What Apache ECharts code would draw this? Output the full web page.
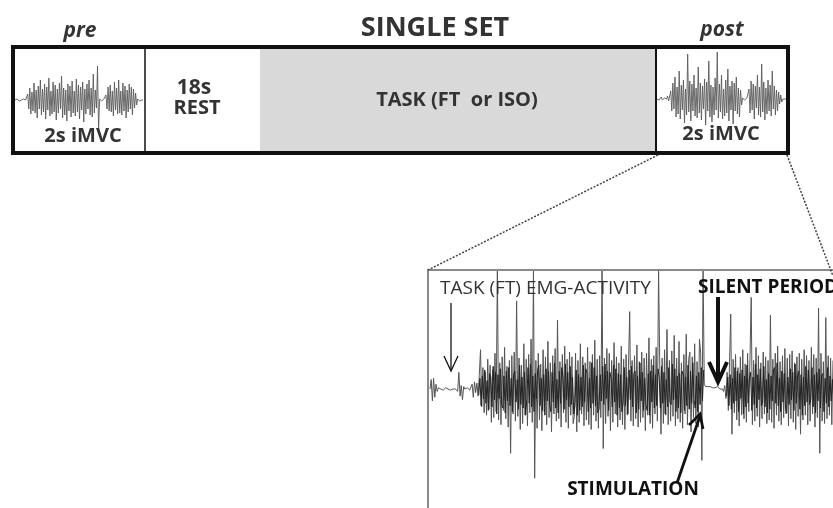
<!DOCTYPE html>
<html><head><meta charset="utf-8">
<script src="https://cdn.jsdelivr.net/npm/echarts@6/dist/echarts.min.js"></script>
<style>html,body{margin:0;padding:0;background:#fff}#c{width:833px;height:508px}</style>
</head><body><div id="c"></div>
<script>
// ---- data (hand-read values of the EMG traces) ----
var preEmg = [0,0,1,0,-1,0,0,0,1,-1,0,0,
 6,-9,12,-14,8,-11,17,-13,10,-18,14,-9,20,-15,11,-12,16,-19,13,-10,22,-16,9,-14,18,-12,15,-20,11,-13,17,-9,24,-18,12,-15,10,-21,16,-11,14,-17,19,-13,9,-16,21,-12,15,-19,13,-10,18,-22,11,-14,16,-9,20,-15,12,-17,26,-13,10,-8,
 34,-30,
 1,0,-1,0,1,0,
 5,-9,13,-11,15,-12,9,-16,18,-10,12,-14,20,-13,9,-15,17,-11,14,-18,10,-12,16,-9,13,-15,11,-8,7,-5,
 1,0,-1,0,0,0];
var postEmg = [0,1,-1,0,2,-1,0,1,0,0,3,-2,0,
 8,-12,16,-10,22,-18,12,-15,28,-20,14,-11,19,-24,10,-16,45,-13,18,-22,15,-12,24,-17,11,-19,32,-14,16,-21,13,-10,20,-26,17,-12,38,-18,14,-23,12,-16,21,-11,47,-19,15,-13,24,-20,10,-17,19,-14,30,-22,13,-11,18,-25,16,-12,22,-15,11,-18,9,-6,
 1,0,-1,0,1,0,
 10,-14,18,-11,15,-20,13,-9,24,-16,12,-18,35,-13,17,-21,11,-15,19,-12,14,-17,28,-10,13,-16,9,-12,7,-5,4,-3,
 0,1,0,0];
var taskEmg = [
 0,8,-10,9,-7,4,-2,1,0,0,
 0,-1,0,1,0,0,0,-1,0,0,
 1,0,0,-2,14,-6,3,-9,2,0,
 0,1,0,-1,0,4,-7,6,-3,5,
 -6,12,33,-15,18,-20,14,-22,25,-17,
 20,-28,16,-24,30,-19,100,-26,22,-30,
 27,-18,35,-25,19,-32,24,-54,28,-21,
 31,-27,74,-23,26,-34,20,-29,38,-22,
 25,-31,29,-20,42,-28,100,-75,24,-33,
 30,-26,21,-35,33,-19,27,-30,40,-24,
 22,-36,28,-21,34,-27,58,-25,23,-32,
 29,-20,36,-28,25,-33,31,-22,27,-29,
 -23,30,-36,24,-28,38,-21,27,-31,22,
 -26,35,-30,23,-34,29,-22,41,-27,25,
 -33,28,-24,100,-50,26,-29,34,-23,30,
 -35,24,-28,39,-21,27,-32,22,-26,36,
 -30,25,-34,29,-22,20,65,-27,24,-31,
 28,-25,37,-32,23,-28,31,-24,26,-35,
 30,-22,43,-29,25,-33,28,-21,35,-27,
 100,20,-38,26,-29,33,-22,50,-30,24,
 -27,32,-23,45,-31,26,-25,40,-28,22,
 -33,29,-21,46,-30,25,31,-36,27,-24,
 38,-29,23,-32,42,30,-60,100,
 4,2,1,2,1,2,1,1,2,1,1,2,1,0,1,0,-2,3,
 -8,14,-18,22,
 63,-38,25,-20,29,-26,18,-31,27,-22,
 33,-25,21,-28,30,-19,26,77,-30,24,
 -27,35,-23,28,-32,22,-25,31,-21,27,
 -29,24,-26,62,-28,25,-33,30,-22,36,
 -27,23,-30,28,-24,34,-21,26,-31,29,
 -25,32,-28,22,-34,27,-23,30,-38,25,
 -26,33,-22,28,-30,24,-27,35,-21,29,
 -32,26,-24,68,-54,30,-27,23,-29,60,
 -25,28,-22,26,-30,24];
// dense dark core of the task EMG (first burst starts at sample 40.5, second at 246.5)
var coreStart = [40.5, 246.5];
var taskCore1 = [
 -5,9,-14,11,-8,16,-12,7,-18,13,
 10,-15,19,-9,14,-21,12,-8,17,-13,
 -16,11,-20,15,-10,18,-14,9,-19,12,
 15,-11,8,-17,20,-13,10,-16,14,-22,
 -9,18,-12,21,-15,11,-19,13,-8,16,
 20,-14,9,-18,12,-22,17,-10,15,-13,
 -19,14,-11,22,-16,8,-20,15,-12,18,
 11,-17,21,-9,14,-15,19,-13,10,-21,
 -14,16,-22,12,-18,10,-15,20,-11,17,
 13,-19,9,-16,22,-12,18,-14,11,-20,
 -17,12,-10,19,-13,21,-8,15,-18,14,
 9,-15,20,-11,17,-22,13,-16,12,-19,
 -12,18,-14,10,-21,16,-9,19,-15,13,
 15,-20,11,-17,22,-10,14,-18,9,-13,
 -18,13,-22,15,-11,20,-16,12,-14,17,
 10,-16,19,-12,14,-21,8,-15,18,-11,
 -13,21,-9,17,-19,11,-16,13,-20,15,
 12,-18,10,-14,20,-17,15,-12,22,-9,
 -16,11,-19,14,-13,18,-10,16];
var taskCore2 = [
 -6,10,-14,12,-17,9,-12,18,-10,15,
 -19,13,-8,16,-21,11,-15,20,-12,9,
 14,-18,10,-13,21,-16,12,-9,17,-14,
 -11,19,-15,8,-20,13,-17,11,-10,16,
 18,-12,22,-14,9,-19,15,-11,13,-16,
 -20,10,-13,17,-9,14,-18,21,-12,11,
 15,-17,12,-22,10,-14,19,-11,16,-13,
 -9,18,-15,12,-20,14,-10,17,-16,11,
 13,-19,9,-12,18,-15,11,-10,8,-6];
var titleText = 'SINGLE SET';
var phaseLabels = ['pre', 'post'];
var boxLabels = ['2s iMVC', '18s', 'REST', 'TASK (FT  or ISO)'];
var zoomLabels = ['TASK (FT) EMG-ACTIVITY', 'SILENT PERIOD', 'STIMULATION'];

function pairs(a, start){ start = start || 0; return a.map(function(v,i){return [start+i,v];}); }

var FONT = 'Open Sans';
var chart = echarts.init(document.getElementById('c'), null, {renderer:'canvas'});
function txt(x,y,s,size,weight,style,extra){
  var o = {type:'text', x:x, y:y, z:100, style:{text:s, fill:'#333', font:(style||'normal')+' '+(weight||'bold')+' '+size+'px "'+FONT+'"', align:'center', verticalAlign:'middle'}};
  if(extra) for(var k in extra) o.style[k]=extra[k];
  return o;
}
function line(pts, w, color, dash){
  return {type:'polyline', z:50, shape:{points:pts}, style:{stroke:color||'#111', lineWidth:w, fill:null, lineDash:dash||null, lineCap:'butt', lineJoin:'miter'}};
}

var graphics = [
  {type:'rect', z:-10, shape:{x:260,y:48,width:395,height:103}, style:{fill:'#d9d9d9'}},
  {type:'rect', z:40, shape:{x:13,y:47,width:775,height:106}, style:{fill:null, stroke:'#111', lineWidth:4}},
  line([[145,48],[145,152]], 1.5),
  line([[656,48],[656,152]], 2),
  line([[658,155],[428,270]], 1.5, '#444', [2,1.5]),
  line([[787,155],[833,276]], 1.5, '#444', [2,1.5]),
  {type:'rect', z:40, shape:{x:428,y:270,width:420,height:260}, style:{fill:null, stroke:'#8a8a8a', lineWidth:2}},
  line([[451,303],[451,371]], 1.3),
  line([[444,356],[451,371],[458,356]], 1.3),
  line([[718,297],[718,380]], 4),
  line([[709,362],[718,382],[727,362]], 4),
  line([[677,483],[700,416]], 2.8),
  line([[689,425],[700,414],[703,429]], 2.8),
  txt(435, 28, titleText, 27),
  txt(80, 31, phaseLabels[0], 21, 'bold', 'italic'),
  txt(722, 30, phaseLabels[1], 21, 'bold', 'italic'),
  txt(83, 136, boxLabels[0], 20),
  txt(721, 134, boxLabels[0], 20),
  txt(194, 88, boxLabels[1], 21),
  txt(197, 108, boxLabels[2], 20),
  txt(457, 100, boxLabels[3], 20),
  txt(440, 289, zoomLabels[0], 19, 'normal', 'normal', {align:'left'}),
  txt(698, 288, zoomLabels[1], 19, 'bold', 'normal', {align:'left', fill:'#111'}),
  txt(633, 490, zoomLabels[2], 19, 'bold', 'normal', {fill:'#111'})
];

chart.setOption({
  animation:false,
  grid:[
    {left:15, top:60, width:128, height:80},
    {left:657, top:49, width:129, height:100},
    {left:430, top:270, width:403, height:246}
  ],
  xAxis:[
    {gridIndex:0, type:'value', min:0, max:preEmg.length-1, show:false},
    {gridIndex:1, type:'value', min:0, max:postEmg.length-1, show:false},
    {gridIndex:2, type:'value', min:0, max:taskEmg.length-1, show:false}
  ],
  yAxis:[
    {gridIndex:0, type:'value', min:-40, max:40, show:false},
    {gridIndex:1, type:'value', min:-50, max:50, show:false},
    {gridIndex:2, type:'value', min:-100, max:100, show:false}
  ],
  series:[
    {type:'line', xAxisIndex:0, yAxisIndex:0, data:pairs(preEmg), showSymbol:false, lineStyle:{color:'#5a5a5a', width:0.9}},
    {type:'line', xAxisIndex:1, yAxisIndex:1, data:pairs(postEmg), showSymbol:false, lineStyle:{color:'#5a5a5a', width:0.9}},
    {type:'line', xAxisIndex:2, yAxisIndex:2, data:pairs(taskEmg), showSymbol:false, lineStyle:{color:'#555', width:1}},
    {type:'line', xAxisIndex:2, yAxisIndex:2, data:pairs(taskCore1, coreStart[0]), showSymbol:false, lineStyle:{color:'#222', width:1}},
    {type:'line', xAxisIndex:2, yAxisIndex:2, data:pairs(taskCore2, coreStart[1]), showSymbol:false, lineStyle:{color:'#222', width:1}}
  ],
  graphic:graphics
});
</script></body></html>
